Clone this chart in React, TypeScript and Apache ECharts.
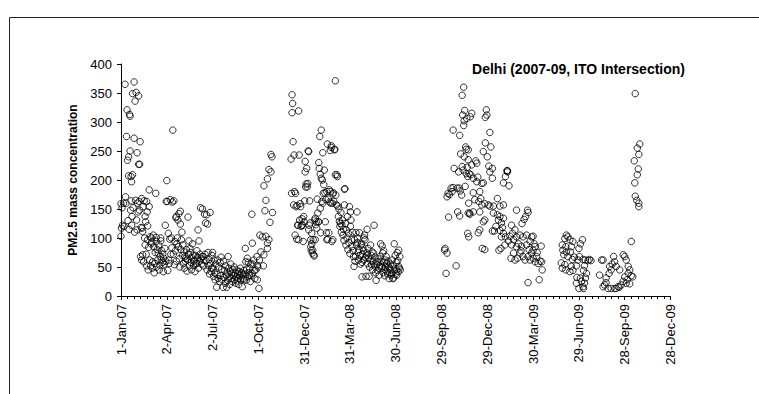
import React, { useEffect, useRef } from "react";
import * as echarts from "echarts";

// Daily PM2.5 readings at ITO Intersection, Delhi.
// Each entry: [days since 1-Jan-2007, PM2.5 concentration]
const janMar07: [number, number][] = [
  [0, 103], [0, 159], [1, 117], [2, 152], [3, 122], [5, 160], [6, 120], [8, 365], [9, 171], [10, 160],
  [11, 275], [12, 321], [13, 234], [14, 130], [15, 240], [15, 207], [16, 115], [17, 313], [18, 310], [18, 250],
  [19, 148], [20, 206], [20, 164], [21, 197], [21, 122], [22, 137], [23, 349], [23, 209], [24, 152], [26, 369],
  [26, 272], [27, 110], [28, 336], [29, 165], [30, 351], [31, 131], [32, 247], [32, 114], [33, 160], [34, 145],
  [35, 345], [35, 227], [36, 163], [37, 227], [37, 148], [38, 266], [39, 68], [40, 118], [41, 168], [41, 62],
  [42, 117], [43, 111], [43, 71], [44, 154], [45, 59], [46, 164], [47, 100], [48, 137], [48, 88], [49, 128],
  [50, 72], [51, 163], [51, 52], [52, 145], [53, 121], [53, 97], [54, 45], [55, 84], [56, 183], [56, 154],
  [57, 62], [58, 102], [59, 52], [60, 90], [61, 100], [61, 93], [62, 48], [63, 59], [64, 105], [65, 85],
  [66, 40], [67, 56], [68, 75], [69, 177], [70, 101], [70, 94], [71, 50], [72, 80], [73, 62], [74, 74],
  [75, 88], [76, 45], [77, 53], [78, 68], [79, 100], [79, 95], [80, 62], [81, 78], [82, 58], [83, 72],
  [84, 42], [85, 65], [86, 55], [87, 82], [88, 122], [89, 60], [90, 163],
];

const aprJun07: [number, number][] = [
  [91, 199], [92, 163], [93, 44], [94, 108], [95, 62], [96, 56], [97, 98], [98, 166], [99, 72], [100, 100],
  [101, 83], [102, 162], [103, 286], [104, 72], [105, 164], [106, 54], [107, 94], [108, 78], [109, 135], [110, 137],
  [110, 60], [111, 90], [112, 100], [113, 131], [114, 85], [115, 142], [116, 64], [117, 50], [118, 146], [118, 124],
  [119, 80], [120, 97], [121, 110], [122, 70], [123, 88], [124, 56], [125, 76], [126, 48], [127, 68], [128, 60],
  [129, 65], [130, 80], [131, 43], [132, 62], [133, 136], [134, 72], [135, 95], [136, 52], [137, 82], [138, 75],
  [139, 58], [140, 45], [141, 66], [142, 90], [143, 70], [144, 53], [145, 60], [146, 62], [147, 42], [148, 70],
  [149, 55], [150, 56], [151, 78], [152, 66], [153, 114], [154, 48], [155, 95], [156, 60], [157, 72], [158, 152],
  [159, 64], [160, 55], [161, 68], [162, 150], [163, 68], [164, 52], [165, 62], [166, 141], [167, 72], [168, 126],
  [169, 61], [170, 140], [171, 45], [172, 124], [173, 75], [174, 52], [175, 63], [176, 38], [177, 144], [178, 56],
  [179, 42], [180, 48], [181, 70],
];

const julSep07: [number, number][] = [
  [182, 75], [183, 48], [184, 34], [185, 62], [186, 40], [187, 28], [188, 55], [190, 15], [191, 37], [192, 62],
  [193, 30], [194, 50], [196, 25], [197, 58], [198, 35], [199, 67], [200, 46], [201, 28], [203, 15], [204, 60],
  [205, 32], [206, 44], [207, 22], [208, 52], [209, 36], [210, 15], [211, 40], [212, 27], [213, 68], [214, 48],
  [215, 33], [216, 20], [217, 42], [218, 55], [219, 30], [220, 38], [221, 25], [222, 46], [224, 35], [225, 50],
  [226, 28], [227, 40], [228, 22], [229, 33], [230, 45], [231, 26], [232, 38], [233, 30], [234, 20], [235, 42],
  [236, 35], [237, 48], [238, 28], [239, 40], [241, 16], [242, 36], [243, 30], [244, 44], [245, 28], [246, 38],
  [247, 82], [248, 59], [249, 27], [250, 46], [251, 65], [252, 33], [253, 58], [254, 40], [255, 36], [256, 48],
  [257, 25], [258, 55], [259, 35], [260, 141], [261, 39], [261, 91], [262, 55], [264, 62], [265, 44], [266, 30],
  [268, 45], [270, 68], [271, 53], [271, 28], [272, 50],
];

const octNov07: [number, number][] = [
  [274, 13], [275, 62], [276, 105], [278, 76], [281, 102], [283, 52], [284, 71], [284, 190], [286, 147], [288, 103],
  [288, 165], [291, 91], [291, 82], [291, 202], [294, 97], [294, 218], [296, 127], [298, 214], [298, 244], [300, 240],
  [301, 144],
];

const decMar08: [number, number][] = [
  [338, 236], [339, 177], [340, 347], [340, 316], [341, 332], [342, 266], [343, 157], [344, 243], [345, 180], [346, 105],
  [347, 177], [348, 154], [349, 98], [350, 156], [351, 122], [352, 122], [353, 319], [353, 97], [354, 243], [355, 131],
  [356, 159], [357, 154], [358, 120], [359, 122], [360, 133], [361, 122], [362, 94], [363, 137], [364, 128], [365, 164],
  [366, 232], [366, 214], [367, 188], [368, 193], [369, 220], [370, 188], [371, 194], [372, 250], [373, 249], [373, 114],
  [374, 122], [375, 164], [376, 126], [377, 97], [377, 85], [378, 79], [379, 108], [379, 90], [380, 74], [381, 79],
  [382, 97], [383, 71], [384, 69], [385, 131], [386, 134], [386, 97], [387, 123], [388, 128], [389, 117], [390, 167],
  [391, 143], [392, 128], [393, 128], [393, 230], [394, 220], [395, 275], [396, 210], [396, 151], [397, 109], [398, 286],
  [398, 203], [399, 163], [400, 200], [401, 247], [401, 160], [402, 177], [403, 192], [404, 217], [405, 178], [406, 128],
  [407, 166], [408, 109], [409, 180], [409, 97], [410, 262], [411, 98], [412, 167], [413, 109], [414, 183], [415, 162],
  [416, 180], [416, 251], [417, 160], [418, 259], [418, 256], [419, 94], [420, 160], [421, 176], [421, 97], [422, 178],
  [423, 163], [424, 252], [425, 253], [426, 371], [426, 209], [427, 174], [428, 157], [429, 209], [430, 206], [431, 155],
  [432, 137], [433, 150], [434, 129], [435, 120], [436, 125], [437, 144], [438, 110], [439, 122], [440, 131], [441, 105],
  [442, 115], [443, 96], [444, 184], [444, 157], [445, 185], [446, 125], [447, 88], [448, 114], [449, 100], [450, 137],
  [451, 80], [452, 108], [453, 92], [454, 154], [455, 73],
];

const aprJul08: [number, number][] = [
  [456, 145], [456, 120], [457, 131], [458, 97], [459, 85], [460, 110], [461, 78], [462, 68], [463, 51], [464, 97],
  [465, 60], [466, 68], [467, 109], [468, 88], [469, 145], [470, 100], [470, 92], [471, 75], [472, 62], [473, 80],
  [474, 109], [475, 70], [476, 55], [477, 88], [478, 90], [479, 33], [479, 58], [480, 72], [481, 83], [482, 78],
  [482, 62], [483, 100], [484, 105], [485, 97], [486, 66], [487, 34], [488, 70], [489, 115], [489, 74], [490, 56],
  [491, 82], [492, 65], [493, 34], [494, 50], [495, 62], [496, 88], [497, 70], [498, 54], [499, 76], [500, 45],
  [501, 60], [502, 74], [503, 122], [504, 52], [505, 67], [506, 40], [507, 27], [508, 55], [509, 59], [510, 44],
  [511, 64], [512, 48], [513, 36], [514, 52], [515, 68], [516, 90], [517, 60], [518, 48], [519, 86], [519, 51],
  [520, 74], [521, 40], [522, 78], [523, 58], [524, 35], [525, 62], [525, 45], [526, 50], [527, 68], [528, 56],
  [529, 42], [530, 38], [531, 60], [532, 51], [533, 30], [534, 48], [535, 45], [536, 55], [537, 36], [538, 39],
  [539, 62], [540, 30], [541, 52], [542, 31], [543, 90], [544, 45], [545, 70], [546, 38], [547, 58], [548, 45],
  [548, 36], [549, 75], [550, 61], [551, 42], [552, 79], [552, 51], [553, 48], [554, 68], [555, 45],
];

const sepDec08: [number, number][] = [
  [643, 79], [644, 82], [646, 39], [648, 74], [648, 171], [650, 177], [651, 136], [653, 175], [656, 186], [658, 180],
  [660, 187], [660, 286], [662, 220], [666, 52], [668, 186], [669, 145], [671, 214], [672, 186], [673, 277], [673, 138],
  [674, 181], [675, 245], [677, 174], [678, 346], [678, 223], [679, 312], [680, 217], [681, 360], [681, 294], [682, 302],
  [682, 240], [683, 320], [684, 189], [685, 257], [686, 253], [686, 211], [687, 306], [688, 222], [689, 108], [689, 206],
  [690, 143], [690, 252], [690, 235], [691, 102], [691, 160], [692, 211], [693, 141], [693, 143], [694, 309], [695, 209],
  [697, 315], [697, 226], [700, 203], [700, 178], [700, 145], [703, 166], [705, 233], [707, 229], [707, 197], [709, 205],
  [710, 109], [711, 163], [713, 180], [713, 145], [713, 114], [715, 168], [717, 157], [717, 194], [718, 82], [720, 249],
  [720, 195], [720, 128], [723, 159], [723, 131], [723, 80], [724, 308], [724, 264], [726, 321], [727, 312], [728, 240],
];

const janApr09: [number, number][] = [
  [730, 157], [731, 224], [733, 282], [733, 214], [733, 155], [735, 257], [738, 220], [738, 203], [738, 112], [740, 155],
  [740, 143], [742, 112], [745, 120], [748, 168], [748, 140], [750, 131], [751, 79], [753, 155], [753, 137], [753, 113],
  [755, 82], [756, 126], [756, 102], [758, 118], [760, 195], [760, 157], [760, 134], [760, 108], [763, 88], [764, 206],
  [764, 102], [767, 216], [768, 216], [768, 214], [770, 95], [771, 190], [773, 103], [775, 65], [776, 122], [776, 88],
  [778, 108], [780, 97], [780, 74], [783, 114], [783, 62], [786, 148], [786, 102], [786, 85], [788, 65], [790, 90],
  [793, 105], [793, 74], [795, 78], [796, 86], [797, 125], [799, 102], [799, 68], [801, 132], [803, 62], [804, 137],
  [806, 105], [806, 88], [808, 148], [809, 144], [809, 68], [809, 23], [811, 80], [813, 94], [813, 62], [816, 102],
  [816, 74], [819, 103], [819, 79], [819, 65], [821, 90], [823, 85], [823, 59], [826, 68], [827, 75], [829, 56],
  [831, 28], [833, 60], [835, 86], [836, 59], [837, 45],
];

const mayOct09: [number, number][] = [
  [875, 57], [877, 88], [877, 48], [878, 79], [880, 71], [882, 99], [882, 54], [884, 85], [884, 45], [885, 105],
  [885, 76], [888, 102], [888, 68], [892, 97], [892, 42], [893, 76], [895, 85], [895, 51], [897, 63], [898, 94],
  [898, 44], [901, 67], [905, 52], [905, 22], [906, 32], [908, 62], [910, 82], [910, 13], [911, 68], [913, 90],
  [913, 31], [915, 25], [917, 97], [918, 63], [918, 16], [919, 44], [919, 13], [921, 52], [921, 22], [923, 62],
  [923, 31], [925, 39], [928, 61], [931, 63], [934, 61], [951, 36], [955, 62], [958, 62], [958, 16], [961, 19],
  [964, 31], [964, 23], [968, 13], [970, 39], [971, 51], [974, 45], [974, 13], [976, 55], [979, 68], [981, 59],
  [981, 13], [984, 51], [984, 13], [988, 16], [990, 15], [991, 45], [994, 19], [998, 71], [998, 25], [1001, 68],
  [1001, 33], [1004, 62], [1004, 22], [1006, 28], [1008, 51], [1008, 39], [1011, 45], [1011, 21], [1014, 35], [1014, 94],
  [1017, 33], [1020, 233], [1021, 195], [1022, 349], [1022, 172], [1025, 165], [1026, 255], [1026, 209], [1028, 219], [1029, 244],
  [1029, 160], [1029, 154], [1031, 262],
];

const readings: [number, number][] = [
  ...janMar07, ...aprJun07, ...julSep07, ...octNov07, ...decMar08,
  ...aprJul08, ...sepDec08, ...janApr09, ...mayOct09,
];

const chartTitle = "Delhi (2007-09, ITO Intersection)";
const yAxisTitle = "PM2.5 mass concentration";
const monthNames = ["Jan", "Feb", "Mar", "Apr", "May", "Jun", "Jul", "Aug", "Sep", "Oct", "Nov", "Dec"];
const dayZero = Date.UTC(2007, 0, 1);
const tickStepDays = 91;

function dateLabel(day: number): string {
  const d = new Date(dayZero + Math.round(day) * 86400000);
  const yy = String(d.getUTCFullYear()).slice(2);
  return `${d.getUTCDate()}-${monthNames[d.getUTCMonth()]}-${yy}`;
}

export default function App() {
  const ref = useRef<HTMLDivElement>(null);

  useEffect(() => {
    if (!ref.current) return;
    const chart = echarts.init(ref.current, null, { renderer: "svg" });
    const font = "'Liberation Sans', Arial, sans-serif";
    chart.setOption({
      animation: false,
      backgroundColor: "#ffffff",
      title: {
        text: chartTitle,
        right: 69,
        top: 57,
        textStyle: { fontFamily: font, fontSize: 14, fontWeight: "bold", color: "#000" },
      },
      grid: { left: 121, top: 64, width: 549.5, height: 232 },
      xAxis: {
        type: "value",
        min: 0,
        max: tickStepDays * 12,
        interval: tickStepDays,
        axisLine: { lineStyle: { color: "#000", width: 1 } },
        axisTick: { show: true, length: 4, lineStyle: { color: "#000" } },
        minorTick: { show: true, splitNumber: 7, length: 3, lineStyle: { color: "#000" } },
        splitLine: { show: false },
        axisLabel: {
          rotate: 90,
          margin: 8,
          fontFamily: font,
          fontSize: 13,
          color: "#000",
          formatter: (v: number) => dateLabel(v),
        },
      },
      yAxis: {
        type: "value",
        min: 0,
        max: 400,
        interval: 50,
        name: yAxisTitle,
        nameLocation: "middle",
        nameGap: 42,
        nameTextStyle: { fontFamily: font, fontSize: 12, fontWeight: "bold", color: "#000" },
        axisLine: { show: true, lineStyle: { color: "#000", width: 1 } },
        axisTick: { show: true, length: 4, lineStyle: { color: "#000" } },
        splitLine: { show: false },
        axisLabel: { margin: 9, fontFamily: font, fontSize: 13, color: "#000" },
      },
      graphic: [
        {
          type: "rect",
          shape: { x: 9.5, y: 17.5, width: 800, height: 420 },
          style: { fill: "none", stroke: "#222", lineWidth: 1 },
          silent: true,
        },
      ],
      series: [
        {
          type: "scatter",
          data: readings,
          symbol: "circle",
          symbolSize: 6.5,
          itemStyle: { color: "rgba(255,255,255,0)", borderColor: "#000", borderWidth: 1 },
        },
      ],
    });
    return () => chart.dispose();
  }, []);

  return (
    <div
      ref={ref}
      style={{ position: "fixed", left: 0, top: 0, width: 759, height: 394, background: "#fff" }}
    />
  );
}
